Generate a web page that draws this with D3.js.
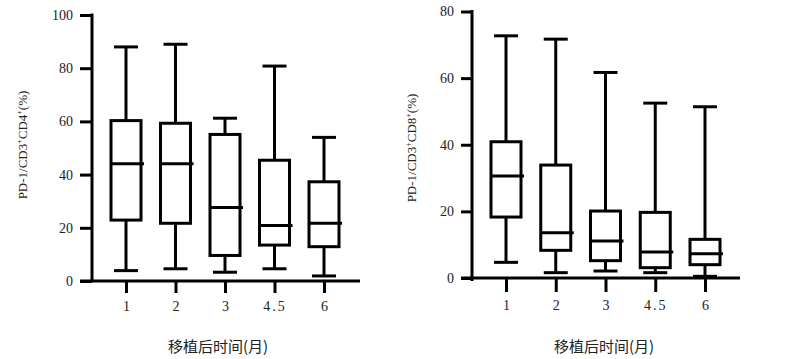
<!DOCTYPE html>
<html><head><meta charset="utf-8">
<script src="https://cdn.jsdelivr.net/npm/d3@7"></script>
<style>body{margin:0;background:#fff}svg{display:block}
.serif{font-family:"Liberation Serif","DejaVu Serif",serif !important}
.cjk{font-family:"Noto Sans CJK SC",sans-serif}</style>
</head><body>
<svg id="c" width="800" height="359"></svg>
<script>
const categories = ["1","2","3","4.5","6"];
// CD4 panel: [whiskerLow, Q1, median, Q3, whiskerHigh]
const cd4Min = [3.9, 4.6, 3.3, 4.6, 1.9];
const cd4Q1 = [22.9, 21.7, 9.6, 13.5, 12.9];
const cd4Med = [44.1, 44.1, 27.6, 20.9, 21.7];
const cd4Q3 = [60.3, 59.3, 55.1, 45.4, 37.3];
const cd4Max = [88.0, 89.0, 61.2, 80.8, 54.0];
// CD8 panel
const cd8Min = [4.7, 1.6, 2.1, 1.6, 0.5];
const cd8Q1 = [18.3, 8.3, 5.2, 3.1, 4.0];
const cd8Med = [30.6, 13.6, 11.1, 7.8, 7.3];
const cd8Q3 = [40.9, 33.9, 20.1, 19.7, 11.6];
const cd8Max = [72.7, 71.7, 61.7, 52.5, 51.4];
const cd4Ticks = [0,20,40,60,80,100];
const cd8Ticks = [0,20,40,60,80];
const xTitle = "移植后时间(月)";

const svg = d3.select("#c");

function panel(cfg){
  const g = svg.append("g");
  const y = d3.scaleLinear().domain([0, cfg.yMax]).range([cfg.y0, cfg.yTop]);
  const x = d3.scalePoint().domain(categories).range([cfg.xFirst, cfg.xLast]);
  const sw = 3;
  // y axis
  const ya = g.append("g").attr("transform",`translate(${cfg.axisX},0)`)
    .call(d3.axisLeft(y).tickValues(cfg.ticks).tickSize(cfg.tickLen).tickPadding(7).tickSizeOuter(0));
  ya.select(".domain").remove();
  ya.selectAll(".tick line").attr("stroke","#000").attr("stroke-width",sw);
  ya.selectAll(".tick text").attr("class","serif").style("font-size","14px").attr("fill","#222");
  g.append("line").attr("x1",cfg.axisX).attr("x2",cfg.axisX)
    .attr("y1",cfg.yTop-1.5).attr("y2",cfg.y0+cfg.axisExt).attr("stroke","#000").attr("stroke-width",sw);
  // x axis
  const xa = g.append("g").attr("transform",`translate(0,${cfg.y0})`)
    .call(d3.axisBottom(x).tickSize(cfg.xTickLen).tickPadding(8).tickSizeOuter(0));
  xa.select(".domain").remove();
  xa.selectAll(".tick line").attr("stroke","#000").attr("stroke-width",sw);
  xa.selectAll(".tick text").attr("class","serif").style("font-size","14px").attr("fill","#222")
    .style("letter-spacing", d => d==="4.5" ? "2px" : "0px");
  g.append("line").attr("x1",cfg.axisX-cfg.tickLen).attr("x2",cfg.xEnd)
    .attr("y1",cfg.y0).attr("y2",cfg.y0).attr("stroke","#000").attr("stroke-width",sw);
  // boxes
  const bw = 30, cw = 24;
  categories.forEach((c,i)=>{
    const cx = x(c);
    const b = g.append("g").attr("stroke","#000").attr("stroke-width",sw).attr("fill","none");
    b.append("line").attr("x1",cx).attr("x2",cx).attr("y1",y(cfg.max[i])).attr("y2",y(cfg.q3[i]));
    b.append("line").attr("x1",cx).attr("x2",cx).attr("y1",y(cfg.q1[i])).attr("y2",y(cfg.min[i]));
    b.append("line").attr("x1",cx-cw/2).attr("x2",cx+cw/2).attr("y1",y(cfg.max[i])).attr("y2",y(cfg.max[i]));
    b.append("line").attr("x1",cx-cw/2).attr("x2",cx+cw/2).attr("y1",y(cfg.min[i])).attr("y2",y(cfg.min[i]));
    b.append("rect").attr("x",cx-bw/2).attr("width",bw).attr("y",y(cfg.q3[i])).attr("height",y(cfg.q1[i])-y(cfg.q3[i]));
    b.append("line").attr("x1",cx-bw/2).attr("x2",cx+bw/2+3).attr("y1",y(cfg.med[i])).attr("y2",y(cfg.med[i]));
  });
  // y title
  const yt = g.append("text").attr("class","serif").attr("transform",`translate(${cfg.yTitleX},${cfg.yTitleY}) rotate(-90)`)
    .attr("text-anchor","middle").style("font-size","13px").attr("fill","#222");
  yt.append("tspan").text("PD-1/CD3");
  yt.append("tspan").style("font-size","8px").attr("dy",-5).text("+");
  yt.append("tspan").attr("dy",5).text("CD"+cfg.cd);
  yt.append("tspan").style("font-size","8px").attr("dy",-5).text("+");
  yt.append("tspan").attr("dy",5).text("(%)");
  // x title
  g.append("text").attr("class","cjk").attr("x",cfg.xTitleX).attr("y",cfg.xTitleY).attr("text-anchor","middle")
    .style("font-size","15px").attr("fill","#222").text(xTitle);
}

panel({yMax:100, y0:281, yTop:15, axisX:92, tickLen:12, axisExt:0, xFirst:126, xLast:324, xEnd:360, xTickLen:12,
  ticks:cd4Ticks, min:cd4Min, q1:cd4Q1, med:cd4Med, q3:cd4Q3, max:cd4Max, cd:"4",
  yTitleX:27, yTitleY:145, xTitleX:218, xTitleY:352});
panel({yMax:80, y0:278, yTop:11.5, axisX:472, tickLen:11, axisExt:3, xFirst:506, xLast:705, xEnd:740, xTickLen:14,
  ticks:cd8Ticks, min:cd8Min, q1:cd8Q1, med:cd8Med, q3:cd8Q3, max:cd8Max, cd:"8",
  yTitleX:416, yTitleY:148, xTitleX:604, xTitleY:352});
</script>
</body></html>
